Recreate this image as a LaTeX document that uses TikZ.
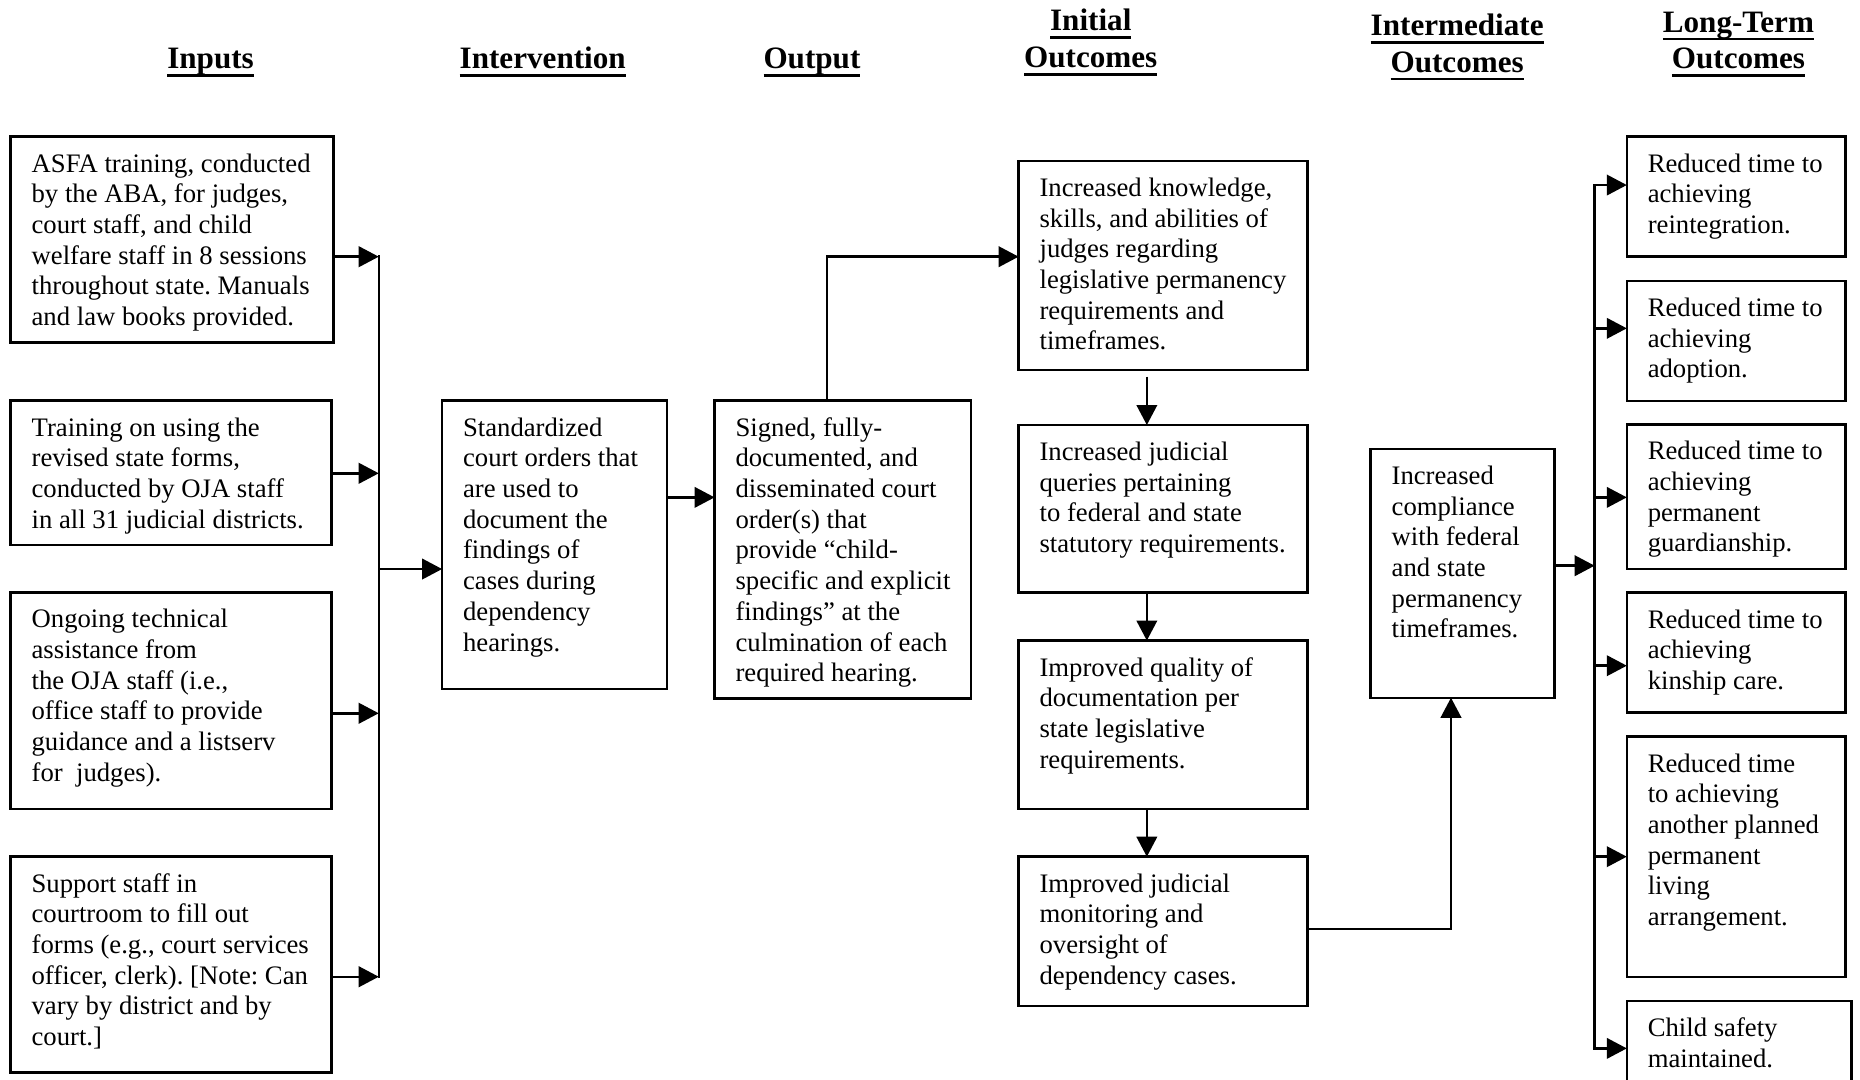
\documentclass[tikz,border=0pt]{standalone}
\usepackage{fontspec}
\setmainfont{Liberation Serif}
\usetikzlibrary{arrows.meta,calc}
\frenchspacing

% underlined heading text
\newsavebox\hulbox
\newcommand\hul[1]{\sbox\hulbox{#1}\rlap{\rule[-3.7pt]{\wd\hulbox}{1.2pt}}\usebox\hulbox}
\newcommand\bodyfont{\fontsize{12}{13.8}\selectfont}
\newcommand\headfont{\fontsize{14}{16.5}\selectfont\bfseries}

% framed box with top-left aligned text: name, x1, y1, x2, y2, text
\newcommand\tbox[6]{%
  \node[box, minimum width={(#4-#2)*0.53333pt}, minimum height={(#5-#3)*0.53333pt}] (#1) at (#2,#3) {};
  \node[txt] (#1-text) at ($(#1.north west)+(17.3,11.4)$) {\strut #6};
}

\begin{document}
\begin{tikzpicture}[x=0.53333pt, y=-0.53333pt,
  box/.style={draw, line width=1.1pt, inner sep=0pt, outer sep=0pt, anchor=north west},
  txt/.style={anchor=north west, inner sep=0pt, align=left, font=\bodyfont},
  head/.style={anchor=north, inner sep=0pt, align=center, font=\headfont},
  link/.style={line width=1.1pt},
  arr/.style={link, -{Triangle[length=9pt, width=9.2pt]}},
]
\useasboundingbox (0,0) rectangle (1568,910);
\clip (0,0) rectangle (1568,910);

% column headings
\node[head] (h-inputs) at (177.5,35.9) {\strut\hul{Inputs}};
\node[head] (h-interv) at (457.5,35.9) {\strut\hul{Intervention}};
\node[head] (h-output) at (684.5,35.9) {\strut\hul{Output}};
\node[head] (h-initial) at (919.5,3.8) {\strut\hul{Initial}\\\hul{Outcomes}};
\node[head] (h-inter) at (1228.4,7.8) {\strut\hul{Intermediate}\\\hul{Outcomes}};
\node[head] (h-long) at (1465.5,5.0) {\strut\hul{Long-Term}\\\hul{Outcomes}};

% inputs
\tbox{in1}{9}{115.2}{281}{288.6}{ASFA training, conducted\\by the ABA, for judges,\\court staff, and child\\welfare staff in 8 sessions\\throughout state. Manuals\\and law books provided.}
\tbox{in2}{9}{337.8}{279.3}{459.5}{Training on using the\\revised state forms,\\conducted by OJA staff\\in all 31 judicial districts.}
\tbox{in3}{9}{499.4}{279.3}{682}{Ongoing technical\\assistance from\\the OJA staff (i.e.,\\office staff to provide\\guidance and a listserv\\for\ \ judges).}
\tbox{in4}{9}{722.2}{279.3}{904}{Support staff in\\courtroom to fill out\\forms (e.g., court services\\officer, clerk). [Note: Can\\vary by district and by\\court.]}

% intervention and output
\tbox{interv}{372.7}{337.8}{562.2}{580.9}{Standardized\\court orders that\\are used to\\document the\\findings of\\cases during\\dependency\\hearings.}
\tbox{output}{602.4}{337.8}{818.5}{588.7}{Signed, fully-\\documented, and\\disseminated court\\order(s) that\\provide “child-\\specific and explicit\\findings” at the\\culmination of each\\required hearing.}

% initial outcomes
\tbox{io1}{858.7}{135.7}{1102.3}{311.9}{Increased knowledge,\\skills, and abilities of\\judges regarding\\legislative permanency\\requirements and\\timeframes.}
\tbox{io2}{858.7}{358.3}{1102.3}{499.6}{Increased judicial\\queries pertaining\\to federal and state\\statutory requirements.}
\tbox{io3}{858.7}{540}{1102.3}{682}{Improved quality of\\documentation per\\state legislative\\requirements.}
\tbox{io4}{858.7}{722.2}{1102.3}{848.1}{Improved judicial\\monitoring and\\oversight of\\dependency cases.}

% intermediate outcome
\tbox{inter}{1155.5}{378.5}{1310.3}{588.2}{Increased\\compliance\\with federal\\and state\\permanency\\timeframes.}

% long-term outcomes
\tbox{lt1}{1371.4}{115.2}{1555.6}{216.4}{Reduced time to\\achieving\\reintegration.}
\tbox{lt2}{1371.4}{236.9}{1555.6}{338}{Reduced time to\\achieving\\adoption.}
\tbox{lt3}{1371.4}{357.7}{1555.6}{479.7}{Reduced time to\\achieving\\permanent\\guardianship.}
\tbox{lt4}{1371.4}{499.6}{1555.6}{600.8}{Reduced time to\\achieving\\kinship care.}
\tbox{lt5}{1371.4}{621}{1555.6}{823.4}{Reduced time\\to achieving\\another planned\\permanent\\living\\arrangement.}
\tbox{lt6}{1371.4}{843.9}{1561}{930}{Child safety\\maintained.}

% input bus
\coordinate (b1a) at (319.3,216.4);
\coordinate (b1b) at (319.3,399);
\coordinate (b1c) at (319.3,601.3);
\coordinate (b1d) at (319.3,823.4);
\coordinate (b1m) at (319.3,479.7);
\draw[link, line cap=rect] (b1a) -- (b1d);
\draw[arr] (in1.east |- b1a) -- (b1a);
\draw[arr] (in2.east |- b1b) -- (b1b);
\draw[arr] (in3.east |- b1c) -- (b1c);
\draw[arr] (in4.east |- b1d) -- (b1d);
\draw[arr] (b1m) -- (interv.west |- b1m);

% intervention to output to initial outcomes
\coordinate (io-y) at (0,419.3);
\draw[arr] (interv.east |- io-y) -- (output.west |- io-y);
\coordinate (o-bend) at (697,216.4);
\draw[arr] (output.north -| o-bend) -- (o-bend) -- (io1.west |- o-bend);

% chain of initial outcomes
\coordinate (io-x) at (966.8,0);
\draw[arr, shorten <=3pt] (io1.south -| io-x) -- (io2.north -| io-x);
\draw[arr] (io2.south -| io-x) -- (io3.north -| io-x);
\draw[arr] (io3.south -| io-x) -- (io4.north -| io-x);

% to intermediate outcome
\coordinate (i-bend) at (1223.2,783.2);
\draw[arr] (io4.east |- i-bend) -- (i-bend) -- (inter.south -| i-bend);

% long-term bus
\coordinate (b2m) at (1344.3,476.9);
\coordinate (b2a) at (1344.3,156);
\coordinate (b2b) at (1344.3,276.8);
\coordinate (b2c) at (1344.3,419.3);
\coordinate (b2d) at (1344.3,561.2);
\coordinate (b2e) at (1344.3,722.2);
\coordinate (b2f) at (1344.3,883.8);
\draw[arr] (inter.east |- b2m) -- (b2m);
\draw[link, line cap=rect] (b2a) -- (b2f);
\draw[arr] (b2a) -- (lt1.west |- b2a);
\draw[arr] (b2b) -- (lt2.west |- b2b);
\draw[arr] (b2c) -- (lt3.west |- b2c);
\draw[arr] (b2d) -- (lt4.west |- b2d);
\draw[arr] (b2e) -- (lt5.west |- b2e);
\draw[arr] (b2f) -- (lt6.west |- b2f);
\end{tikzpicture}
\end{document}
